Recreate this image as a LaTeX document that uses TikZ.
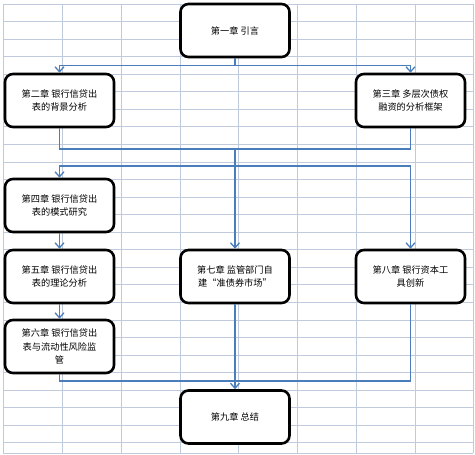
\documentclass[tikz,border=0pt]{standalone}
\usepackage{fontspec}
\newfontfamily\cjk{Noto Sans CJK SC}
\usetikzlibrary{arrows.meta}
\definecolor{gridc}{HTML}{BFCADC}
\definecolor{flow}{HTML}{4A7EBB}
\tikzset{
  chap/.style={draw=black, line width=2.6pt, rounded corners=8pt, fill=white,
    minimum width=109pt, minimum height=53pt, align=center,
    font=\cjk\fontsize{9.2pt}{13.4pt}\selectfont, inner sep=2pt},
  link/.style={draw=flow, line width=1.5pt},
  arr/.style={link, -{Straight Barb[length=5pt,width=9pt,line width=1.3pt]}},
}
\begin{document}
\begin{tikzpicture}[x=1pt,y=-1pt]
\useasboundingbox (0,0) rectangle (475,455);
% spreadsheet grid
\foreach \k in {0,...,25} \draw[gridc, line width=0.8pt] (3,{4+17.55*\k}) -- (473,{4+17.55*\k});
\draw[gridc, line width=0.8pt] (3,453) -- (473,453);
\foreach \gx in {3,62.5,121,180,238.5,297,356,415,473} \draw[gridc, line width=0.8pt] (\gx,4) -- (\gx,453);
% boxes
\node[chap] (b1) at (235,30.5) {第一章 引言};
\node[chap] (b2) at (59.5,100.5) {第二章 银行信贷出\\表的背景分析};
\node[chap] (b3) at (410.5,100.5) {第三章 多层次债权\\融资的分析框架};
\node[chap] (b4) at (59.5,205.5) {第四章 银行信贷出\\表的模式研究};
\node[chap] (b5) at (59.5,276.5) {第五章 银行信贷出\\表的理论分析};
\node[chap] (b6) at (59.5,346.5) {第六章 银行信贷出\\表与流动性风险监\\管};
\node[chap] (b7) at (235,276.5) {第七章 监管部门自\\建“准债券市场”};
\node[chap] (b8) at (410.5,276.5) {第八章 银行资本工\\具创新};
\node[chap] (b9) at (235,417) {第九章 总结};
% junctions
\coordinate (j1) at (235,65.5);
\coordinate (j2) at (235,149);
\coordinate (j3) at (235,166);
\coordinate (j4) at (235,381);
% connectors
\draw[link] (b1.south) -- (j1);
\draw[arr] (j1) -| (b2.north);
\draw[arr] (j1) -| (b3.north);
\draw[link] (b2.south) |- (j2);
\draw[link] (b3.south) |- (j2);
\draw[arr] (j2) -- (b7.north);
\draw[arr] (j3) -| (b4.north);
\draw[arr] (j3) -| (b8.north);
\draw[arr] (b4) -- (b5);
\draw[arr] (b5) -- (b6);
\draw[link] (b6.south) |- (j4);
\draw[link] (b8.south) |- (j4);
\draw[arr] (b7.south) -- (b9.north);
\end{tikzpicture}
\end{document}
